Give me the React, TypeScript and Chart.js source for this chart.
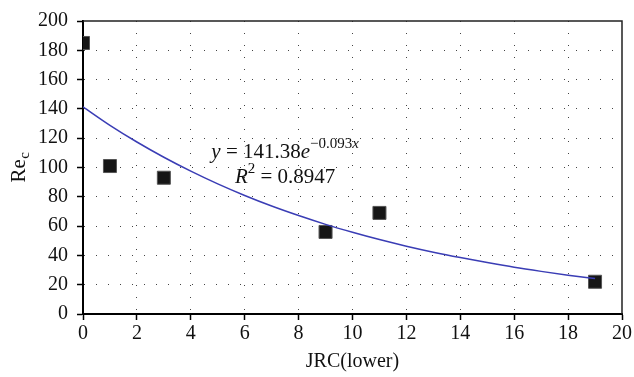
import React, { useEffect, useRef } from "react";
import { Chart, registerables } from "chart.js";

Chart.register(...registerables);

// Observed data points
const observedJRC = [0, 1, 3, 9, 11, 19];
const observedRec = [185, 101, 93, 56, 69, 22];

// Trend curve
const fitJRC = [0, 1, 2, 3, 4, 5, 6, 7, 8, 9, 10, 11, 12, 13, 14, 15, 16, 17, 18, 19];
const fitRec = [141.4, 128.8, 117.4, 107.0, 97.5, 88.8, 80.9, 73.7, 67.2, 61.2, 55.8, 50.8, 46.3, 42.2, 38.5, 35.1, 31.9, 29.1, 26.5, 24.2];

// Tick labels
const xTicks = [0, 2, 4, 6, 8, 10, 12, 14, 16, 18, 20];
const yTicks = [0, 20, 40, 60, 80, 100, 120, 140, 160, 180, 200];

// Texts
const xTitle = "JRC(lower)";
const yTitleMain = "Re";
const yTitleSub = "c";
const eqCoef = " = 141.38";
const eqExp = "\u22120.093";
const r2Value = " = 0.8947";

// Annotation anchor (data coordinates)
const annX = 7.5;
const annLine1Y = 106.4;
const annLine2Y = 89.5;

const FONT = "'Liberation Serif', 'DejaVu Serif', serif";

const overlay = {
  id: "overlay",
  beforeDatasetsDraw(chart: any) {
    const { ctx, chartArea: a } = chart;
    ctx.save();
    ctx.strokeStyle = "#222";
    ctx.lineWidth = 1.5;
    ctx.beginPath();
    ctx.moveTo(a.left, a.top);
    ctx.lineTo(a.right, a.top);
    ctx.lineTo(a.right, a.bottom);
    ctx.stroke();
    ctx.restore();
  },
  afterDraw(chart: any) {
    const { ctx, chartArea: a, scales } = chart;
    const xs = scales.x;
    const ys = scales.y;
    ctx.save();
    ctx.fillStyle = "#111";

    // X title
    ctx.font = `20px ${FONT}`;
    ctx.textAlign = "center";
    ctx.textBaseline = "middle";
    ctx.fillText(xTitle, (a.left + a.right) / 2, 362);

    // Y title with subscript
    ctx.save();
    ctx.translate(25, (a.top + a.bottom) / 2);
    ctx.rotate(-Math.PI / 2);
    ctx.textAlign = "left";
    ctx.textBaseline = "alphabetic";
    ctx.font = `21px ${FONT}`;
    const wRe = ctx.measureText(yTitleMain).width;
    ctx.font = `15px ${FONT}`;
    const wC = ctx.measureText(yTitleSub).width;
    const start = -(wRe + wC) / 2;
    ctx.font = `21px ${FONT}`;
    ctx.fillText(yTitleMain, start, 0);
    ctx.font = `15px ${FONT}`;
    ctx.fillText(yTitleSub, start + wRe + 0.5, 4);
    ctx.restore();

    // Equation lines
    const cx = xs.getPixelForValue(annX);
    const b1 = ys.getPixelForValue(annLine1Y);
    const b2 = ys.getPixelForValue(annLine2Y);
    ctx.textAlign = "left";
    ctx.textBaseline = "alphabetic";
    const it = `italic 21px ${FONT}`;
    const rg = `21px ${FONT}`;
    const itS = `italic 15px ${FONT}`;
    const rgS = `15px ${FONT}`;
    const parts1: [string, string, number][] = [
      ["y", it, 0],
      [eqCoef, rg, 0],
      ["e", it, 0],
      [eqExp, rgS, -10],
      ["x", itS, -10],
    ];
    const parts2: [string, string, number][] = [
      ["R", it, 0],
      ["2", rgS, -10],
      [r2Value, rg, 0],
    ];
    const drawParts = (parts: [string, string, number][], baseline: number) => {
      let w = 0;
      for (const [t, f] of parts) {
        ctx.font = f;
        w += ctx.measureText(t).width;
      }
      let x = cx - w / 2;
      for (const [t, f, dy] of parts) {
        ctx.font = f;
        ctx.fillText(t, x, baseline + dy);
        x += ctx.measureText(t).width;
      }
    };
    drawParts(parts1, b1);
    drawParts(parts2, b2);
    ctx.restore();
  },
};

export default function App() {
  const ref = useRef<HTMLCanvasElement | null>(null);
  useEffect(() => {
    document.body.style.margin = "0";
    const canvas = ref.current;
    if (!canvas) return;
    const tickFont = { family: FONT, size: 20 };
    const chart = new Chart(canvas, {
      type: "scatter",
      data: {
        datasets: [
          {
            label: "fit",
            data: fitJRC.map((v, i) => ({ x: v, y: fitRec[i] })),
            showLine: true,
            borderColor: "#3a3db5",
            borderWidth: 1.5,
            pointRadius: 0,
            cubicInterpolationMode: "monotone",
            order: 0,
          } as any,
          {
            label: "data",
            data: observedJRC.map((v, i) => ({ x: v, y: observedRec[i] })),
            pointStyle: "rect",
            pointRadius: 9.2,
            backgroundColor: "#161616",
            borderColor: "#555",
            borderWidth: 1,
            order: 1,
          } as any,
        ],
      },
      options: {
        animation: false,
        responsive: false,
        layout: { padding: { top: 19, right: 12, left: 0, bottom: 0 } },
        plugins: { legend: { display: false }, tooltip: { enabled: false } },
        scales: {
          x: {
            type: "linear",
            min: 0,
            max: 20,
            afterBuildTicks: (s: any) => {
              s.ticks = xTicks.map((v) => ({ value: v }));
            },
            afterFit: (s: any) => {
              s.height = 63;
            },
            grid: {
              color: (c: any) =>
                c.index === 0 || c.index === xTicks.length - 1 ? "transparent" : "#444",
              lineWidth: 1,
              tickLength: 6,
              tickColor: "#000",
              tickWidth: 1.5,
            },
            border: { display: true, color: "#000", width: 2, dash: [1, 11] },
            ticks: { font: tickFont, color: "#111", padding: 2, maxRotation: 0 },
          },
          y: {
            type: "linear",
            min: 0,
            max: 200,
            afterBuildTicks: (s: any) => {
              s.ticks = yTicks.map((v) => ({ value: v }));
            },
            afterFit: (s: any) => {
              s.width = 83;
            },
            grid: {
              color: (c: any) =>
                c.index === 0 || c.index === yTicks.length - 1 ? "transparent" : "#444",
              lineWidth: 1,
              tickLength: 6,
              tickColor: "#000",
              tickWidth: 1.5,
            },
            border: { display: true, color: "#000", width: 2, dash: [1, 11] },
            ticks: { font: tickFont, color: "#111", padding: 9 },
          },
        },
      },
      plugins: [overlay],
    });
    return () => chart.destroy();
  }, []);
  return (
    <div style={{ width: 634, height: 377 }}>
      <canvas ref={ref} width={634} height={377} style={{ display: "block" }} />
    </div>
  );
}
